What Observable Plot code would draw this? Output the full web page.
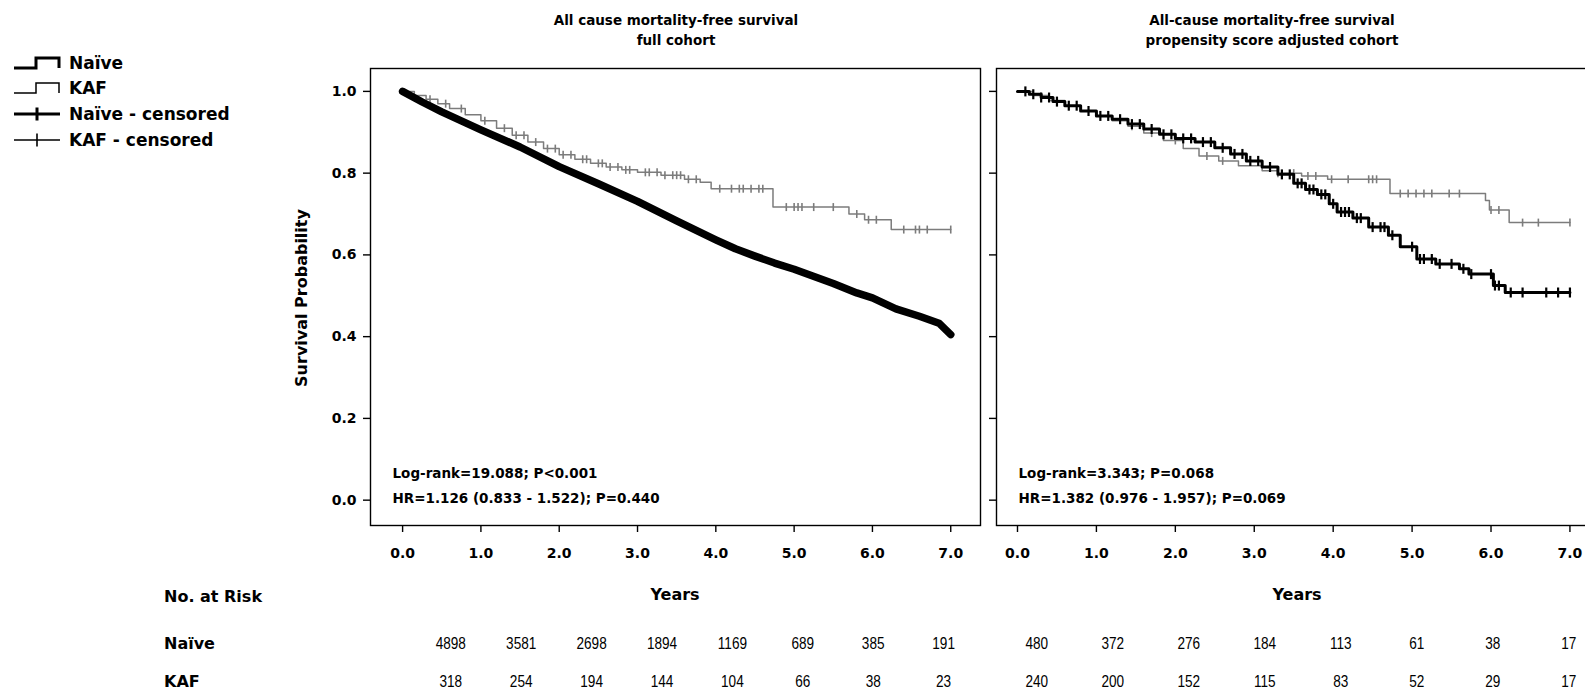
<!DOCTYPE html>
<html><head><meta charset="utf-8">
<script src="https://cdn.jsdelivr.net/npm/d3@7"></script>
<script src="https://cdn.jsdelivr.net/npm/@observablehq/plot@0.6"></script>
<style>
html,body{margin:0;padding:0;background:#fff;}
#root{position:relative;width:1585px;height:696px;overflow:hidden;font-family:"DejaVu Sans",sans-serif;font-weight:bold;color:#000;}
.abs{position:absolute;white-space:nowrap;}
.title{font-size:13.5px;line-height:20px;text-align:center;transform:translateX(-50%);}
.leg{position:absolute;left:14px;display:flex;align-items:center;font-size:17px;height:20px;}
.leg svg{margin-right:8px;}
.lab{font-size:16px;}
</style></head><body><div id="root"></div>
<script>
// ---------- data ----------
const years = [0, 1, 2, 3, 4, 5, 6, 7];
const yTicks = [0, 0.2, 0.4, 0.6, 0.8, 1.0];
const groups = ["Naïve", "KAF"];

// full cohort
const fullNaiveT = [0, 0.25, 0.5, 0.75, 1, 1.5, 2, 2.5, 3, 3.5, 4, 4.25, 4.5, 4.75, 5, 5.5, 5.8, 6, 6.3, 6.6, 6.85, 7];
const fullNaiveS = [1, 0.974, 0.95, 0.928, 0.906, 0.864, 0.816, 0.774, 0.731, 0.683, 0.637, 0.615, 0.597, 0.58, 0.565, 0.53, 0.507, 0.495, 0.468, 0.45, 0.433, 0.405];
const fullKafT = [0, 0.15, 0.3, 0.45, 0.6, 0.8, 1.0, 1.2, 1.4, 1.6, 1.8, 2.0, 2.2, 2.4, 2.6, 2.8, 3.0, 3.3, 3.6, 3.8, 3.94, 4.73, 5.7, 5.9, 6.24, 7.0];
const fullKafS = [1, 0.99, 0.981, 0.97, 0.958, 0.943, 0.928, 0.91, 0.893, 0.876, 0.86, 0.845, 0.834, 0.824, 0.815, 0.808, 0.802, 0.795, 0.785, 0.778, 0.762, 0.717, 0.70, 0.686, 0.662, 0.662];
const fullKafCensor = [0.35, 0.55, 0.75, 1.05, 1.3, 1.45, 1.55, 1.7, 1.85, 1.95, 2.05, 2.15, 2.3, 2.35, 2.5, 2.55, 2.65, 2.75, 2.85, 2.9, 3.1, 3.15, 3.25, 3.35, 3.45, 3.5, 3.55, 3.65, 3.75, 4.05, 4.2, 4.3, 4.35, 4.45, 4.55, 4.6, 4.9, 5.0, 5.05, 5.1, 5.25, 5.5, 5.8, 5.95, 6.05, 6.4, 6.55, 6.6, 6.7, 7.0];

// propensity score adjusted cohort
const psNaiveT = [0, 0.15, 0.3, 0.45, 0.6, 0.8, 1.0, 1.2, 1.4, 1.6, 1.8, 2.0, 2.25, 2.5, 2.7, 2.9, 3.1, 3.3, 3.5, 3.65, 3.8, 3.95, 4.05, 4.25, 4.45, 4.7, 4.85, 5.06, 5.3, 5.6, 5.72, 6.03, 6.18, 7.0];
const psNaiveS = [1, 0.993, 0.985, 0.975, 0.965, 0.952, 0.94, 0.932, 0.92, 0.908, 0.895, 0.885, 0.876, 0.862, 0.847, 0.83, 0.815, 0.797, 0.775, 0.76, 0.748, 0.725, 0.705, 0.69, 0.668, 0.648, 0.62, 0.59, 0.578, 0.566, 0.553, 0.525, 0.508, 0.508];
const psNaiveCensor = [0.1, 0.2, 0.3, 0.4, 0.5, 0.65, 0.75, 0.9, 1.05, 1.15, 1.3, 1.45, 1.55, 1.7, 1.85, 1.95, 2.1, 2.2, 2.35, 2.45, 2.6, 2.75, 2.85, 2.95, 3.05, 3.2, 3.35, 3.45, 3.55, 3.6, 3.7, 3.75, 3.85, 3.9, 4.0, 4.1, 4.15, 4.2, 4.3, 4.35, 4.5, 4.6, 4.65, 4.75, 5.0, 5.1, 5.15, 5.25, 5.35, 5.5, 5.65, 5.75, 6.0, 6.05, 6.1, 6.25, 6.4, 6.7, 6.85, 7.0];
const psKafT = [0, 0.2, 0.4, 0.6, 0.8, 1.0, 1.2, 1.4, 1.6, 1.85, 2.1, 2.3, 2.55, 2.8, 3.1, 3.3, 3.6, 3.93, 4.72, 5.93, 5.98, 6.23, 7.0];
const psKafS = [1, 0.99, 0.978, 0.965, 0.952, 0.94, 0.928, 0.915, 0.898, 0.88, 0.86, 0.842, 0.83, 0.818, 0.806, 0.8, 0.793, 0.785, 0.75, 0.733, 0.71, 0.679, 0.679];
const psKafCensor = [1.45, 1.7, 2.0, 2.4, 2.6, 3.3, 3.5, 3.68, 3.78, 3.98, 4.19, 4.45, 4.5, 4.55, 4.85, 4.95, 5.05, 5.15, 5.25, 5.47, 5.6, 6.0, 6.1, 6.4, 6.6, 7.0];

// numbers at risk
const riskFullNaive = [4898, 3581, 2698, 1894, 1169, 689, 385, 191];
const riskFullKaf = [318, 254, 194, 144, 104, 66, 38, 23];
const riskPsNaive = [480, 372, 276, 184, 113, 61, 38, 17];
const riskPsKaf = [240, 200, 152, 115, 83, 52, 29, 17];

const titleFull = ["All  cause mortality-free survival", "full cohort"];
const titlePs = ["All-cause mortality-free survival", "propensity score adjusted cohort"];
const statsFull = "Log-rank=19.088; P<0.001\nHR=1.126 (0.833 - 1.522); P=0.440";
const statsPs = "Log-rank=3.343; P=0.068\nHR=1.382 (0.976 - 1.957); P=0.069";

// ---------- helpers ----------
const root = document.getElementById("root");
const censorSymbol = {draw(ctx, size) { const r = Math.sqrt(size / Math.PI); ctx.moveTo(0, -r); ctx.lineTo(0, r); }};
const pts = (T, S) => T.map((t, i) => ({t, s: S[i]}));
const stepAt = (T, S, t) => { let k = 0; for (let i = 0; i < T.length; i++) if (T[i] <= t) k = i; return S[k]; };
const cens = (C, T, S) => C.map(t => ({t, s: stepAt(T, S, t)}));
const fontStyle = {fontFamily: '"DejaVu Sans", sans-serif', fontSize: "13px", fontWeight: "bold", background: "transparent", color: "#000", overflow: "visible"};

function place(el, left, top) {
  el.style.position = "absolute"; el.style.left = left + "px"; el.style.top = top + "px";
  root.appendChild(el);
  return el;
}
function addText(txt, left, top, cls, extra) {
  const d = document.createElement("div");
  d.className = "abs " + (cls || "");
  d.innerHTML = txt;
  d.style.left = left + "px"; d.style.top = top + "px";
  if (extra) Object.assign(d.style, extra);
  root.appendChild(d);
  return d;
}

function survivalPanel(o) {
  return Plot.plot({
    width: o.width, height: 610,
    marginLeft: o.marginLeft, marginRight: o.marginRight, marginTop: 68, marginBottom: 85,
    style: fontStyle,
    x: {domain: o.xDomain},
    y: {domain: [-0.062, 1.056]},
    marks: [
      Plot.axisY(yTicks, {tickFormat: o.yLabels ? d3.format(".1f") : () => "", tickSize: 7, tickPadding: 7, label: null, strokeWidth: 1.4, fill: "#000", fontSize: 14, fontWeight: "bold"}),
      Plot.axisX(years, {tickFormat: d3.format(".1f"), tickSize: 7, tickPadding: 16, label: null, strokeWidth: 1.4, fill: "#000", fontSize: 14, fontWeight: "bold"}),
      Plot.frame({stroke: "#000", strokeWidth: 1.4}),
      Plot.line(pts(o.kafT, o.kafS), {x: "t", y: "s", curve: "step-after", stroke: "#7c7c7c", strokeWidth: 1.5}),
      Plot.dot(cens(o.kafC, o.kafT, o.kafS), {x: "t", y: "s", symbol: censorSymbol, r: 4, stroke: "#7c7c7c", strokeWidth: 1.6, fill: "none"}),
      Plot.line(pts(o.naiveT, o.naiveS), {x: "t", y: "s", curve: o.naiveCurve, stroke: "#000", strokeWidth: o.naiveWidth, strokeLinecap: "round", strokeLinejoin: "round"}),
      o.naiveC ? Plot.dot(cens(o.naiveC, o.naiveT, o.naiveS), {x: "t", y: "s", symbol: censorSymbol, r: 5, stroke: "#000", strokeWidth: 2.2, fill: "none"}) : null,
      Plot.text([o.stats], {frameAnchor: "bottom-left", text: d => d, dx: 22, dy: -23, textAnchor: "start", lineAnchor: "bottom", lineHeight: 1.8, fontSize: 13.5, fontWeight: "bold", fill: "#000"})
    ]
  });
}

// the at-risk table is drawn wide and then squeezed horizontally (narrow-font look)
const squeeze = 0.8;
function riskTable(o) {
  const rows = [];
  years.forEach((y, i) => {
    rows.push({year: y, group: groups[0], n: o.naive[i]});
    rows.push({year: y, group: groups[1], n: o.kaf[i]});
  });
  const svg = Plot.plot({
    width: o.width / squeeze, height: 86, margin: 0,
    style: {...fontStyle, fontWeight: "normal"},
    x: {type: "point", domain: years, range: o.xRange.map(v => v / squeeze), padding: 0, axis: null},
    y: {type: "point", domain: groups, range: [33, 71], padding: 0, axis: null},
    marks: [
      Plot.text(rows, {x: "year", y: "group", text: d => String(d.n), fontFamily: '"Liberation Sans", Arial, sans-serif', fontSize: 17, fill: "#000"})
    ]
  });
  svg.style.transform = `scaleX(${squeeze})`;
  svg.style.transformOrigin = "0 0";
  return svg;
}

// ---------- panels ----------
place(survivalPanel({
  width: 740, marginLeft: 120, marginRight: 10, xDomain: [-0.41, 7.38], yLabels: true,
  naiveT: fullNaiveT, naiveS: fullNaiveS, naiveCurve: "linear", naiveWidth: 7.5, naiveC: null,
  kafT: fullKafT, kafS: fullKafS, kafC: fullKafCensor, stats: statsFull
}), 250, 0);

place(survivalPanel({
  width: 666, marginLeft: 56, marginRight: 5, xDomain: [-0.266, 7.4], yLabels: false,
  naiveT: psNaiveT, naiveS: psNaiveS, naiveCurve: "step-after", naiveWidth: 3, naiveC: psNaiveCensor,
  kafT: psKafT, kafS: psKafS, kafC: psKafCensor, stats: statsPs
}), 940, 0);

place(riskTable({width: 990, xRange: [448, 945], naive: riskFullNaive, kaf: riskFullKaf}), 0, 610);
place(riskTable({width: 595, xRange: [44, 580], naive: riskPsNaive, kaf: riskPsKaf}), 990, 610);

// ---------- titles & labels ----------
addText(titleFull.join("<br>"), 676, 10, "title");
addText(titlePs.join("<br>"), 1272, 10, "title");
addText("Survival Probability", 301, 298, "lab", {transform: "translate(-50%,-50%) rotate(-90deg)"});
addText("Years", 675, 594, "lab", {transform: "translate(-50%,-50%)"});
addText("Years", 1297, 594, "lab", {transform: "translate(-50%,-50%)"});
addText("No. at Risk", 164, 596, "lab", {transform: "translateY(-50%)"});
addText(groups[0], 164, 643, "lab", {transform: "translateY(-50%)"});
addText(groups[1], 164, 681, "lab", {transform: "translateY(-50%)"});

// ---------- legend ----------
const legendItems = [
  {label: "Naïve", kind: "step", w: 3},
  {label: "KAF", kind: "step", w: 1.5},
  {label: "Naïve - censored", kind: "cens", w: 3},
  {label: "KAF - censored", kind: "cens", w: 1.6}
];
const legendY = [63, 88, 114, 140];
legendItems.forEach((it, i) => {
  const row = document.createElement("div");
  row.className = "leg";
  row.style.top = (legendY[i] - 10) + "px";
  const path = it.kind === "step" ? "M0,13 H22 V3 H45 V13" : "M0,8 H46 M23,1.5 V14.5";
  row.innerHTML = `<svg width="47" height="16" viewBox="0 0 47 16"><path d="${path}" fill="none" stroke="#000" stroke-width="${it.w}"/></svg><span>${it.label}</span>`;
  root.appendChild(row);
});
</script></body></html>
